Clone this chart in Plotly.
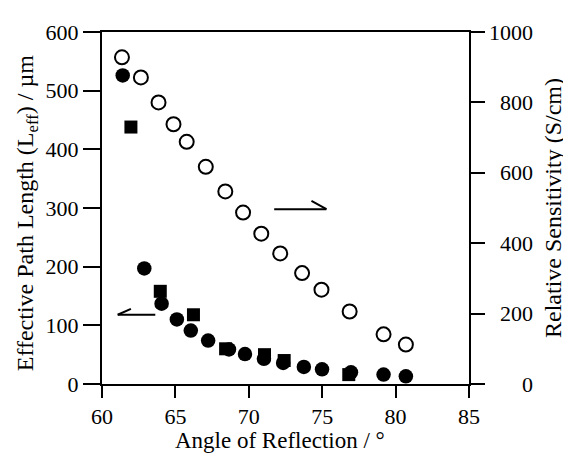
import plotly.graph_objects as go

# Relative sensitivity (open circles, right axis)
angle_open = [61.36, 62.65, 63.85, 64.87, 65.77, 67.07, 68.40, 69.61, 70.85, 72.14, 73.63, 74.95, 76.87, 79.18, 80.70]
sensitivity = [928, 871, 800, 738, 688, 617, 547, 487, 427, 371, 315, 268, 206, 141, 112]

# Effective path length (filled circles, left axis)
angle_fc = [61.41, 62.88, 64.06, 65.10, 66.05, 67.23, 68.65, 69.74, 71.03, 72.34, 73.75, 74.99, 76.96, 79.18, 80.70]
leff_fc = [526, 197, 137, 110, 91, 74, 59, 51, 43, 36, 29, 25, 20, 16, 13]

# Effective path length (filled squares, left axis)
angle_sq = [61.97, 63.97, 66.23, 68.42, 71.07, 72.41, 76.81]
leff_sq = [438, 158, 118, 60, 50, 40, 16]

x_ticks = [60, 65, 70, 75, 80, 85]
y_ticks = [0, 100, 200, 300, 400, 500, 600]
y2_ticks = [0, 200, 400, 600, 800, 1000]

FONT = "Liberation Serif"
TICK_SIZE = 22
TITLE_SIZE = 23
VTITLE_SIZE = 24

fig = go.Figure()
fig.add_trace(go.Scatter(x=angle_open, y=sensitivity, yaxis="y2", mode="markers",
                         marker=dict(symbol="circle-open", size=14, color="black",
                                     line=dict(width=2, color="black"))))
fig.add_trace(go.Scatter(x=angle_sq, y=leff_sq, mode="markers",
                         marker=dict(symbol="square", size=13, color="black")))
fig.add_trace(go.Scatter(x=angle_fc, y=leff_fc, mode="markers",
                         marker=dict(symbol="circle", size=14.5, color="black")))

axis_common = dict(showline=True, linewidth=2, linecolor="black", showgrid=False,
                   zeroline=False, ticks="outside", tickwidth=2, tickcolor="black",
                   tickfont=dict(family=FONT, size=TICK_SIZE, color="black"))

annotations = []
for v in y2_ticks:
    annotations.append(dict(text=str(v), xref="paper", yref="y2", x=1, y=v,
                            xanchor="right", yanchor="middle", xshift=66, showarrow=False,
                            font=dict(family=FONT, size=TICK_SIZE, color="black")))
annotations.append(dict(text="Angle of Reflection / °", xref="paper", yref="paper",
                        x=0.486, y=0, yshift=-56, xanchor="center", yanchor="middle",
                        showarrow=False, font=dict(family=FONT, size=TITLE_SIZE, color="black")))
annotations.append(dict(text="Effective Path Length (L<sub>eff</sub>) / µm", xref="paper", yref="paper",
                        x=0, xshift=-75, y=0.485, xanchor="center", yanchor="middle",
                        textangle=-90, showarrow=False,
                        font=dict(family=FONT, size=VTITLE_SIZE, color="black")))
annotations.append(dict(text="Relative Sensitivity (S/cm)", xref="paper", yref="paper",
                        x=1, xshift=84, y=0.5, xanchor="center", yanchor="middle",
                        textangle=-90, showarrow=False,
                        font=dict(family=FONT, size=VTITLE_SIZE, color="black")))

# half-arrows indicating which axis each series uses
arrow_line = dict(color="black", width=2)
shapes = [
    dict(type="line", xref="x", yref="y", x0=71.73, y0=298, x1=75.29, y1=298, line=arrow_line),
    dict(type="line", xref="x", yref="y", x0=74.27, y0=312, x1=75.29, y1=298, line=arrow_line),
    dict(type="line", xref="x", yref="y", x0=61.07, y0=118, x1=63.63, y1=118, line=arrow_line),
    dict(type="line", xref="x", yref="y", x0=61.07, y0=118, x1=61.97, y1=128, line=arrow_line),
]

# the page adds an 8px body margin, so the figure is 8px smaller than the window
fig.update_layout(
    width=563, height=448,
    margin=dict(l=94, r=102, t=15, b=72),
    paper_bgcolor="white", plot_bgcolor="white",
    showlegend=False,
    xaxis=dict(range=[60, 85], tickvals=x_ticks, ticklen=12, mirror=True, **axis_common),
    yaxis=dict(range=[0, 600], tickvals=y_ticks, ticklen=17, **axis_common),
    yaxis2=dict(range=[0, 1000], tickvals=y2_ticks, ticklen=14, overlaying="y", side="right",
                showticklabels=False, **axis_common),
    annotations=annotations,
    shapes=shapes,
)

fig.write_html("out.html")
